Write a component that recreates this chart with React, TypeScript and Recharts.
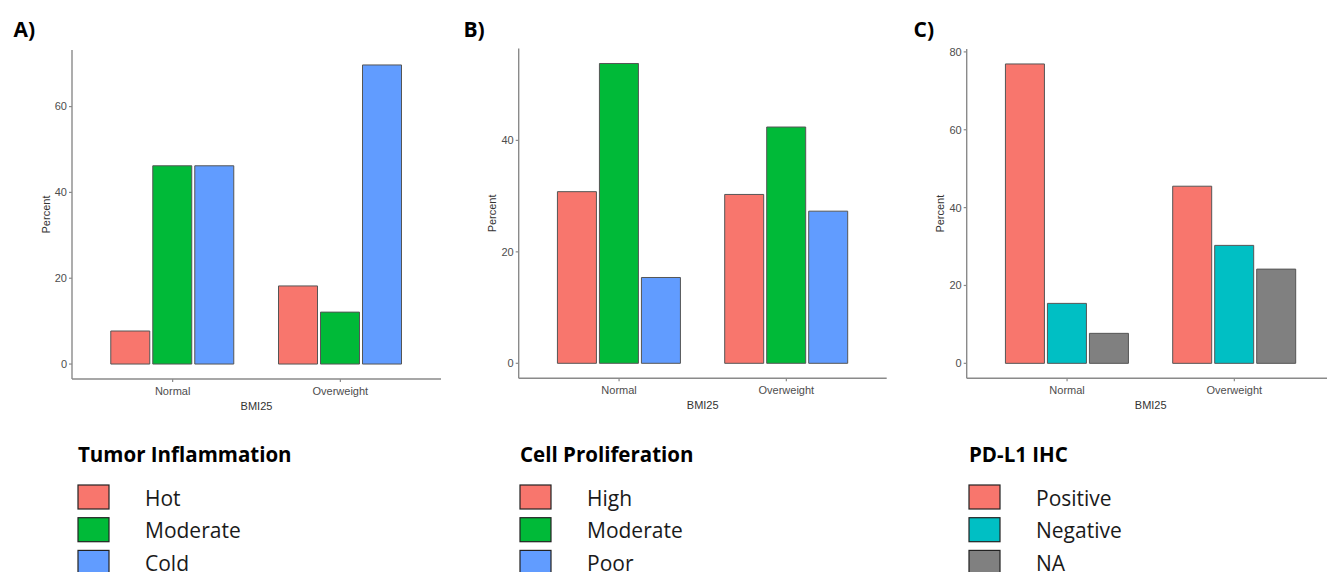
import { BarChart, Bar, XAxis, YAxis } from 'recharts'

const bmiGroups = ['Normal', 'Overweight']

const inflammationLevels = ['Hot', 'Moderate', 'Cold']
const inflammationNormal = [7.7, 46.2, 46.2]
const inflammationOverweight = [18.2, 12.1, 69.7]
const inflammationTicks = [0, 20, 40, 60]

const proliferationLevels = ['High', 'Moderate', 'Poor']
const proliferationNormal = [30.8, 53.8, 15.4]
const proliferationOverweight = [30.3, 42.4, 27.3]
const proliferationTicks = [0, 20, 40]

const pdl1Levels = ['Positive', 'Negative', 'NA']
const pdl1Normal = [76.9, 15.4, 7.7]
const pdl1Overweight = [45.5, 30.3, 24.2]
const pdl1Ticks = [0, 20, 40, 60, 80]

const HUE3 = ['#F8766D', '#00BA38', '#619CFF']
const PDL1_COLORS = ['#F8766D', '#00BFC4', '#808080']

type PanelCfg = {
  tag: string
  title: string
  levels: string[]
  normal: number[]
  overweight: number[]
  ticks: number[]
  colors: string[]
  left: number
  width: number
  plotLeft: number
  plotRight: number
  plotTop: number
  plotBottom: number
  legendX: number
  labelX: number
}

const PANELS: PanelCfg[] = [
  {
    tag: 'A)', title: 'Tumor Inflammation', levels: inflammationLevels,
    normal: inflammationNormal, overweight: inflammationOverweight, ticks: inflammationTicks,
    colors: HUE3, left: 0, width: 450, plotLeft: 72, plotRight: 441, plotTop: 50, plotBottom: 379,
    legendX: 78, labelX: 145,
  },
  {
    tag: 'B)', title: 'Cell Proliferation', levels: proliferationLevels,
    normal: proliferationNormal, overweight: proliferationOverweight, ticks: proliferationTicks,
    colors: HUE3, left: 450, width: 450, plotLeft: 518.7, plotRight: 886.7, plotTop: 48.5, plotBottom: 378.3,
    legendX: 520, labelX: 587,
  },
  {
    tag: 'C)', title: 'PD-L1 IHC', levels: pdl1Levels,
    normal: pdl1Normal, overweight: pdl1Overweight, ticks: pdl1Ticks,
    colors: PDL1_COLORS, left: 900, width: 440, plotLeft: 966.7, plotRight: 1334.7, plotTop: 49, plotBottom: 378.3,
    legendX: 969, labelX: 1036,
  },
]

const AXIS_FONT = '"Liberation Sans", Arial, sans-serif'
const LEGEND_FONT = '"Open Sans", "Noto Sans", sans-serif'
const AXIS_GREY = '#8a8a8a'

function XTitle({ viewBox }: any) {
  if (!viewBox) return null
  return (
    <text x={viewBox.x + viewBox.width / 2} y={viewBox.y + 31} textAnchor="middle"
      fontSize={11} fontFamily={AXIS_FONT} fill="#333">
      BMI25
    </text>
  )
}

function YTitle({ viewBox }: any) {
  if (!viewBox) return null
  const x = viewBox.x + viewBox.width - 26.3
  const y = viewBox.y + viewBox.height / 2
  return (
    <text x={x} y={y} dy="0.35em" textAnchor="middle" transform={`rotate(-90 ${x} ${y})`}
      fontSize={11} fontFamily={AXIS_FONT} fill="#333">
      Percent
    </text>
  )
}

function Panel({ cfg }: { cfg: PanelCfg }) {
  const rows = bmiGroups.map((g, gi) => {
    const vals = gi === 0 ? cfg.normal : cfg.overweight
    const row: Record<string, string | number> = { group: g }
    cfg.levels.forEach((lv, i) => { row[lv] = vals[i] })
    return row
  })
  const max = Math.max(...cfg.normal, ...cfg.overweight)
  const plotW = cfg.plotRight - cfg.plotLeft
  const pad = plotW / 22
  const tickStyle = { fontSize: 11, fontFamily: AXIS_FONT, fill: '#4D4D4D' }

  return (
    <div style={{ position: 'absolute', left: cfg.left, top: 0 }}>
      <BarChart
        width={cfg.width}
        height={420}
        data={rows}
        barSize={39}
        barGap={3}
        margin={{ top: cfg.plotTop, right: cfg.left + cfg.width - cfg.plotRight, bottom: 0, left: 0 }}
      >
        <XAxis
          dataKey="group"
          height={420 - cfg.plotBottom}
          padding={{ left: pad, right: pad }}
          tick={tickStyle}
          tickSize={3}
          tickMargin={5}
          axisLine={{ stroke: AXIS_GREY, strokeWidth: 1.4 }}
          tickLine={{ stroke: AXIS_GREY, strokeWidth: 1.2 }}
          label={<XTitle />}
        />
        <YAxis
          type="number"
          width={cfg.plotLeft - cfg.left}
          domain={[-0.05 * max, 1.05 * max]}
          ticks={cfg.ticks}
          allowDataOverflow
          tick={tickStyle}
          tickSize={3}
          tickMargin={2}
          axisLine={{ stroke: AXIS_GREY, strokeWidth: 1.4 }}
          tickLine={{ stroke: AXIS_GREY, strokeWidth: 1.2 }}
          label={<YTitle />}
        />
        {cfg.levels.map((lv, i) => (
          <Bar key={lv} dataKey={lv} fill={cfg.colors[i]} stroke="#555" strokeWidth={1}
            isAnimationActive={false} />
        ))}
      </BarChart>
    </div>
  )
}

const SWATCH_TOP = 485
const ROW_STEP = 32.7

export default function App() {
  return (
    <div style={{ position: 'absolute', left: 0, top: 0, width: 1327, height: 572, overflow: 'hidden', background: '#fff' }}>
      {PANELS.map((p) => <Panel key={p.tag} cfg={p} />)}
      <svg width={1327} height={572} style={{ position: 'absolute', left: 0, top: 0, pointerEvents: 'none' }}>
        {PANELS.map((p) => (
          <g key={p.tag} fontFamily={LEGEND_FONT}>
            <text x={p.left + 13.5} y={36.7} fontSize={21} fontWeight={700} fill="#000">{p.tag}</text>
            <text x={p.legendX} y={462.3} fontSize={20.5} fontWeight={700} fill="#000">{p.title}</text>
            {p.levels.map((lv, i) => (
              <g key={lv}>
                <rect x={p.legendX} y={SWATCH_TOP + i * ROW_STEP} width={31} height={24}
                  fill={p.colors[i]} stroke="#222" strokeWidth={1.2} />
                <text x={p.labelX} y={SWATCH_TOP + i * ROW_STEP + 20.5} fontSize={21} fill="#1a1a1a">{lv}</text>
              </g>
            ))}
          </g>
        ))}
      </svg>
    </div>
  )
}
